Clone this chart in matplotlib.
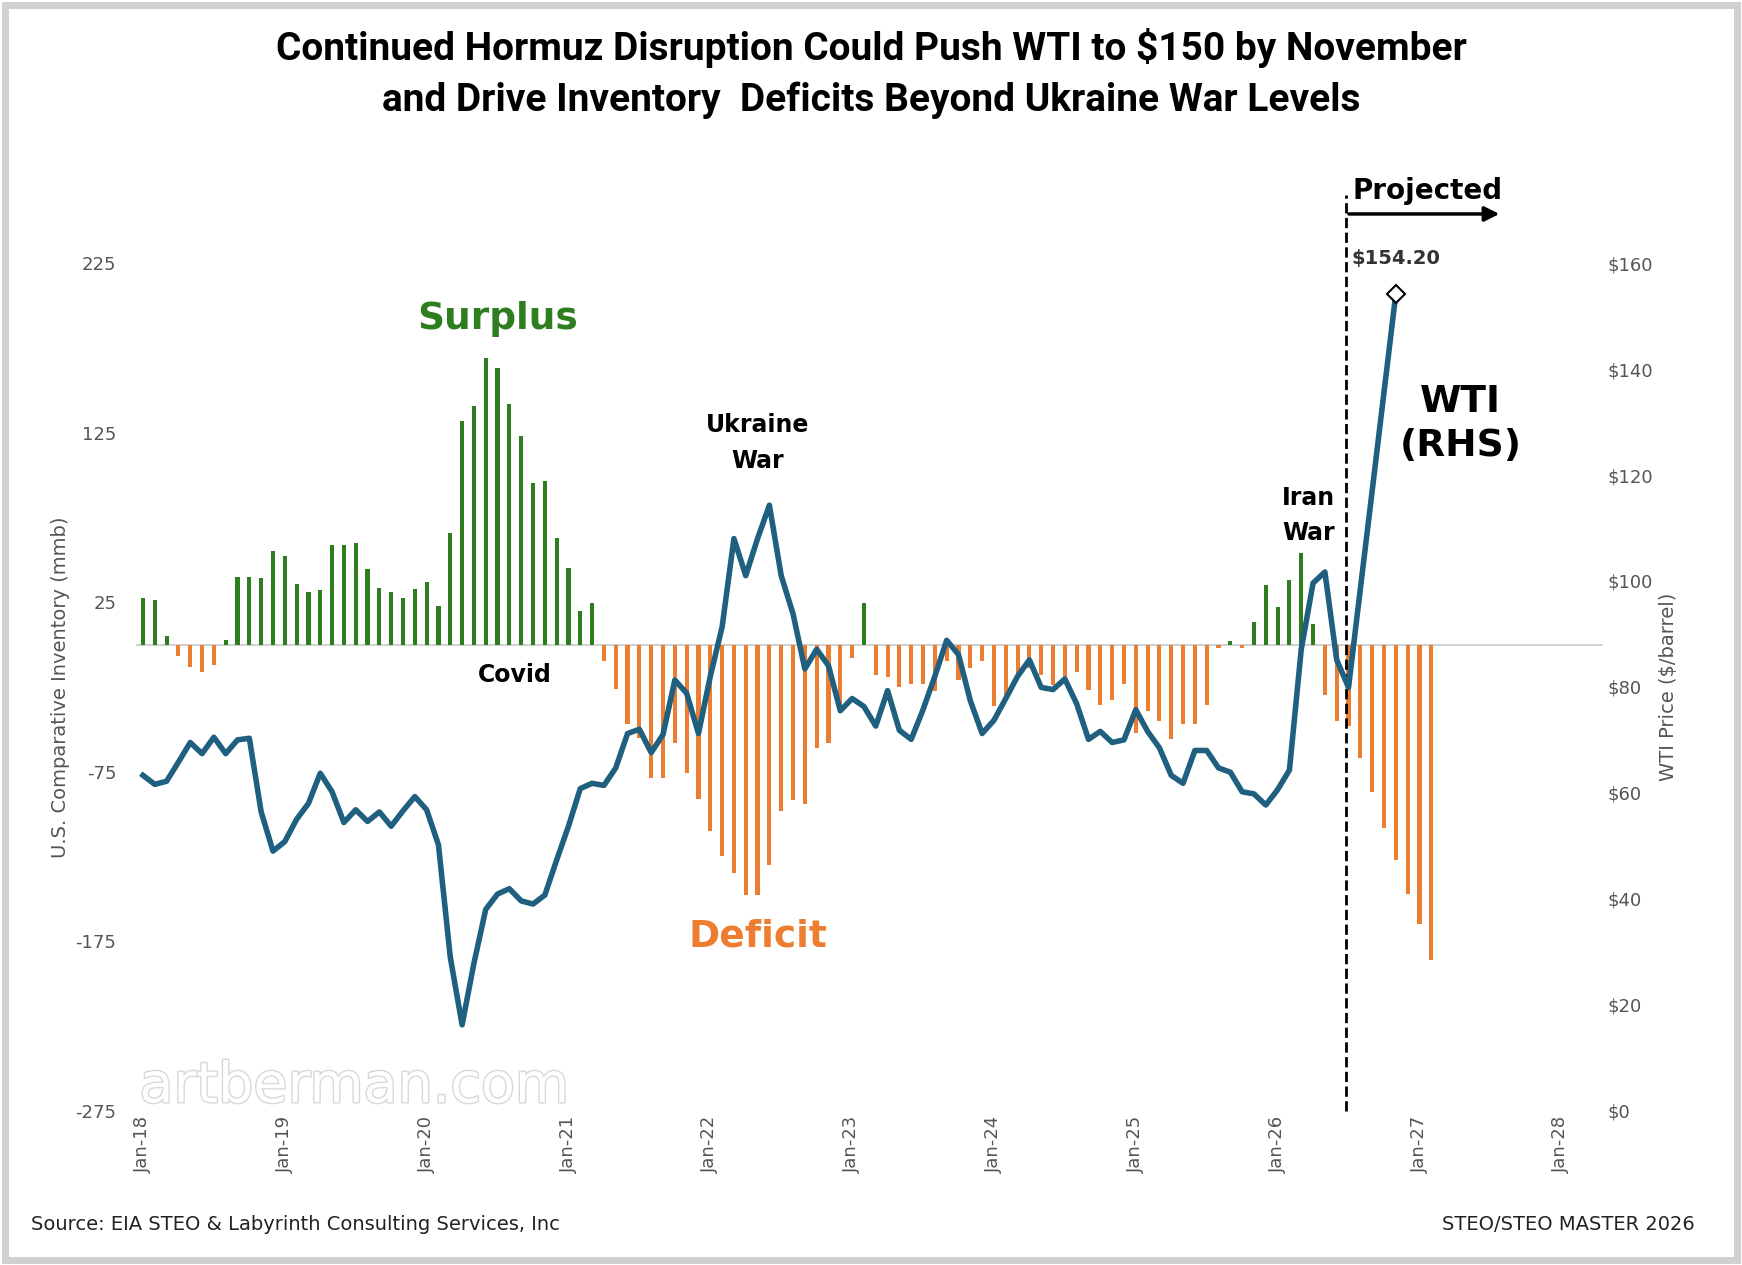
import numpy as np
import matplotlib.pyplot as plt
import matplotlib.patheffects as pe

# WTI monthly price ($/bbl), Jan-18 .. Nov-26
wti = [63.3, 61.6, 62.2, 65.8, 69.5, 67.4, 70.5, 67.4, 70.0, 70.3, 56.4, 49.0,
       50.8, 55.0, 58.0, 63.7, 60.2, 54.4, 56.8, 54.6, 56.4, 53.7, 56.6, 59.3,
       56.8, 50.2, 29.0, 16.2, 27.8, 38.0, 40.9, 41.9, 39.6, 39.0, 40.7, 47.3,
       53.7, 60.8, 61.8, 61.4, 64.7, 71.2, 72.0, 67.6, 71.0, 81.3, 78.8, 71.2,
       82.0, 91.3, 108.0, 101.0, 108.0, 114.3, 101.0, 93.8, 83.4, 87.1, 84.0, 75.5,
       77.8, 76.3, 72.6, 79.3, 71.8, 70.1, 75.7, 82.0, 88.8, 86.1, 77.4, 71.2,
       73.7, 77.8, 82.0, 85.1, 79.9, 79.5, 81.5, 76.8, 70.1, 71.6, 69.5, 70.0,
       75.7, 71.6, 68.5, 63.3, 61.8, 68.0, 68.0, 64.7, 63.9, 60.2, 59.8, 57.7,
       60.6, 64.3, 87.1, 99.6, 101.7, 85.1, 79.9, 98.5, 117.0, 135.6, 154.2]

# Comparative inventory (mmb), Jan-18 .. Feb-27
inv = [27.6, 26, 5, -6.6, -13, -16, -12, 2.6, 40, 40, 39, 55,
       52, 35.5, 31, 32, 58.5, 58.5, 60, 44.7, 33.5, 31, 27.6, 33,
       37, 23, 66, 131.6, 141, 169, 163, 142, 123, 95.4, 96.7, 63,
       45, 20, 24.6, -9.9, -26, -47, -55, -79, -79, -58, -76, -91,
       -110, -125, -135, -148, -148, -130, -98, -92, -94, -61, -58, -40,
       -8, 24.6, -18, -19, -25, -23, -23, -27.6, -10, -21, -14, -10,
       -36.5, -30, -18, -14, -18, -24, -20, -16, -27, -35.5, -32.5, -23,
       -52, -39, -45, -56, -47, -47, -35.5, -2, 2, -2, 13, 35,
       22, 38, 54, 12, -30, -45, -48, -67, -87, -108, -127, -147,
       -165, -186]

tick_labels = ['Jan-18', 'Jan-19', 'Jan-20', 'Jan-21', 'Jan-22', 'Jan-23',
               'Jan-24', 'Jan-25', 'Jan-26', 'Jan-27', 'Jan-28']

green = '#2e7d1f'
orange = '#ed7d31'
blue = '#1f5f7f'

fig = plt.figure(figsize=(17.42, 12.65), dpi=100)
ax = fig.add_axes([0.078, 0.122, 0.842, 0.67])
ax2 = ax.twinx()

m = np.arange(len(inv))
inv = np.array(inv)
cols = [green if v >= 0 else orange for v in inv]
ax.bar(m, inv, width=0.35, color=cols, zorder=2)
ax.axhline(0, color='#c8c8c8', lw=1.2, zorder=1)
ax.set_ylim(-275, 225)
ax.set_yticks([-275, -175, -75, 25, 125, 225])
ax.set_yticklabels(['-275', '-175', '-75', '25', '125', '225'])
ax.set_xlim(-0.6, 123.5)
ax.set_xticks(np.arange(0, 121, 12))
ax.set_xticklabels(tick_labels, rotation=90, fontsize=13, color='#555555')
ax.tick_params(axis='y', labelsize=13, colors='#555555', length=0, pad=14)
ax.tick_params(axis='x', length=0)
ax.set_ylabel('U.S. Comparative Inventory (mmb)', fontsize=14, color='#555555')

mw = np.arange(len(wti))
ax2.plot(mw, wti, color=blue, lw=4, zorder=3)
ax2.plot(mw[-1], wti[-1], marker='D', ms=9, mfc='white', mec='black', mew=1.5, zorder=4)
ax2.set_ylim(0, 158.3)
ax2.set_yticks(np.arange(0, 161, 20))
ax2.set_yticklabels(['$%d' % v for v in range(0, 161, 20)])
ax2.tick_params(axis='y', labelsize=13, colors='#555555', length=0)
ax2.set_ylabel('WTI Price ($/barrel)', fontsize=14, color='#555555')
for a in (ax, ax2):
    for s in a.spines.values():
        s.set_visible(False)

# projection marker
ax.axvline(101.8, color='black', ls='--', lw=2, ymax=1.08, clip_on=False)
ax.annotate('', xy=(115, 254), xytext=(101.8, 254),
            arrowprops=dict(arrowstyle='-|>', color='black', lw=2.5, mutation_scale=22),
            annotation_clip=False)
ax.text(102.3, 259, 'Projected', fontsize=20, fontweight='bold', va='bottom')
ax2.text(mw[-1], 159, '$154.20', fontsize=14, fontweight='bold', color='#333333',
         ha='center', va='bottom')

ax.text(30, 186, 'Surplus', fontsize=27, fontweight='bold', color=green, ha='center')
ax.text(52, -178, 'Deficit', fontsize=27, fontweight='bold', color=orange, ha='center')
ax.text(31.5, -18, 'Covid', fontsize=17, fontweight='bold', ha='center', va='center')
ax.text(52, 119, 'Ukraine\nWar', fontsize=17, fontweight='bold', ha='center',
        va='center', linespacing=1.6)
ax.text(98.6, 76, 'Iran\nWar', fontsize=17, fontweight='bold', ha='center',
        va='center', linespacing=1.6)
ax.text(111.5, 130, 'WTI\n(RHS)', fontsize=27, fontweight='bold', ha='center',
        va='center', linespacing=1.3)
wm = ax.text(-0.3, -270, 'artberman.com', fontsize=40, color='white', zorder=5)
wm.set_path_effects([pe.withStroke(linewidth=2, foreground='#d8d8d8')])

fig.text(0.5, 0.978, 'Continued Hormuz Disruption Could Push WTI to $150 by November\n'
         'and Drive Inventory  Deficits Beyond Ukraine War Levels',
         ha='center', va='top', fontsize=28, fontweight='bold', linespacing=1.45,
         family=['Roboto', 'DejaVu Sans'])
fig.text(0.018, 0.028, 'Source: EIA STEO & Labyrinth Consulting Services, Inc',
         fontsize=14, color='#222222')
fig.text(0.973, 0.028, 'STEO/STEO MASTER 2026', fontsize=14, color='#222222', ha='right')
fig.patches.append(plt.Rectangle((0.003, 0.004), 0.994, 0.992, transform=fig.transFigure,
                                 fill=False, ec='#d0d0d0', lw=5))

fig.savefig('out.png', dpi=100)
